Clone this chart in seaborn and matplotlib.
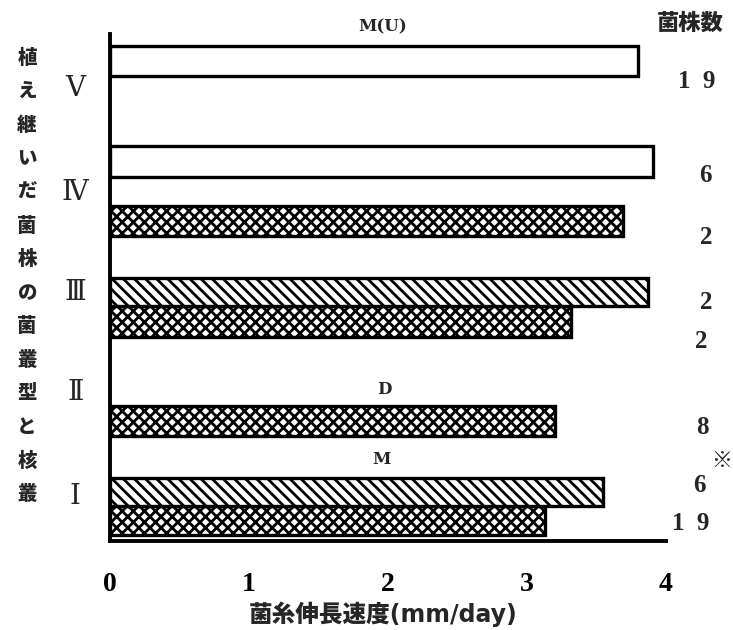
import matplotlib
matplotlib.use("Agg")
import numpy as np
import pandas as pd
import seaborn as sns
import matplotlib.pyplot as plt

# ---- data (rows listed from top to bottom) ----
groups = ["Ⅴ", "Ⅳ", "Ⅳ", "Ⅲ", "Ⅲ", "Ⅱ", "Ⅰ", "Ⅰ"]
colony_type = ["M(U)", "M(U)", "D", "M", "D", "D", "M", "D"]
growth_rate = [3.80, 3.91, 3.69, 3.87, 3.32, 3.20, 3.55, 3.13]
n_strains = [19, 6, 2, 2, 2, 8, 6, 19]
group_names = ["Ⅴ", "Ⅳ", "Ⅲ", "Ⅱ", "Ⅰ"]
x_ticks = [0, 1, 2, 3, 4]

ylabel_text = "植え継いだ菌株の菌叢型と核叢"
xlabel_text = "菌糸伸長速度(mm/day)"
count_title = "菌株数"

# ---- layout ----
W, H = 733, 630
bar_center = [480, 379.5, 320, 249, 219.5, 120, 49, 20.5]
bar_thick = [30, 31, 30, 28, 31, 30, 28, 29]
group_bounds = [102, 200, 302, 403, 505]
group_label_y = [455, 352, 252, 152, 47]
count_px = [(697, 82), (705, 176), (706, 238), (706, 302), (701, 342),
            (702, 428), (699, 485), (691, 524)]
type_label_px = {"M(U)": (383, 27), "D": (384, 390), "M": (381, 459)}
hatch_of = {"M(U)": "", "M": "\\\\\\", "D": "xxx"}

sns.set_style("white")
plt.rcParams["font.family"] = ["DejaVu Sans", "Noto Sans CJK JP"]
plt.rcParams["hatch.linewidth"] = 2.0


def px(x, y):
    return x / W, 1 - y / H


fig = plt.figure(figsize=(W / 100, H / 100), dpi=100)
left, right, top, bottom = 110, 666, 34, 541
ax = fig.add_axes([left / W, 1 - bottom / H, (right - left) / W, (bottom - top) / H])

df = pd.DataFrame({"rate": growth_rate, "pos": bar_center, "type": colony_type})
sns.barplot(data=df, x="rate", y="pos", hue="type", orient="y", native_scale=True,
            dodge=False, palette={"M(U)": "white", "M": "white", "D": "white"},
            edgecolor="black", linewidth=2.4, legend=False, errorbar=None, ax=ax)

centers = np.array(bar_center)
for p in ax.patches:
    yc = p.get_y() + p.get_height() / 2
    i = int(np.argmin(np.abs(centers - yc)))
    p.set_y(bar_center[i] - bar_thick[i] / 2)
    p.set_height(bar_thick[i])
    p.set_hatch(hatch_of[colony_type[i]])

ax.set_xlim(0, 4)
ax.set_ylim(0, 507)
ax.set_xlabel("")
ax.set_ylabel("")
for s in ["top", "right"]:
    ax.spines[s].set_visible(False)
for s in ["left", "bottom"]:
    ax.spines[s].set_linewidth(2.8)
    ax.spines[s].set_color("black")

ax.set_xticks(x_ticks)
ax.set_xticklabels([str(t) for t in x_ticks], fontfamily="Liberation Serif",
                   fontweight="bold", fontsize=20)
ax.tick_params(axis="x", direction="in", length=6, width=2.2, pad=22, colors="black")

ax.set_yticks(group_bounds)
ax.set_yticklabels([""] * len(group_bounds))
ax.set_yticks(group_label_y, minor=True)
ax.set_yticklabels(group_names, minor=True, fontfamily="DejaVu Serif", fontsize=20)
ax.tick_params(axis="y", which="major", direction="in", length=7, width=2.8)
ax.tick_params(axis="y", which="minor", length=0, pad=25)
for t in ax.get_yticklabels(minor=True):
    t.set_horizontalalignment("center")

# strain counts at the right
for (cx, cy), n in zip(count_px, n_strains):
    fig.text(*px(cx, cy), "  ".join(str(n)), ha="center", va="center",
             fontfamily="Liberation Serif", fontweight="bold", fontsize=18)
fig.text(*px(722, 460), "※", ha="center", va="center",
         fontfamily="Noto Sans CJK JP", fontweight="bold", fontsize=15)
fig.text(*px(690, 23), count_title, ha="center", va="center",
         fontfamily="Noto Sans CJK JP", fontweight="heavy", fontsize=16)

# colony-type labels
for name, (tx, ty) in type_label_px.items():
    fig.text(*px(tx, ty), name, ha="center", va="center",
             fontfamily="DejaVu Serif", fontweight="bold", fontsize=12)

# vertical y-axis title, one character per line
for k, ch in enumerate(ylabel_text):
    fig.text(*px(27, 58 + k * 33.6), ch, ha="center", va="center",
             fontfamily="Noto Sans CJK JP", fontweight="heavy", fontsize=14)

fig.text(*px(383, 614), xlabel_text, ha="center", va="center",
         fontfamily=["DejaVu Sans", "Noto Sans CJK JP"], fontweight="heavy", fontsize=17)

fig.savefig("out.png", dpi=100)
